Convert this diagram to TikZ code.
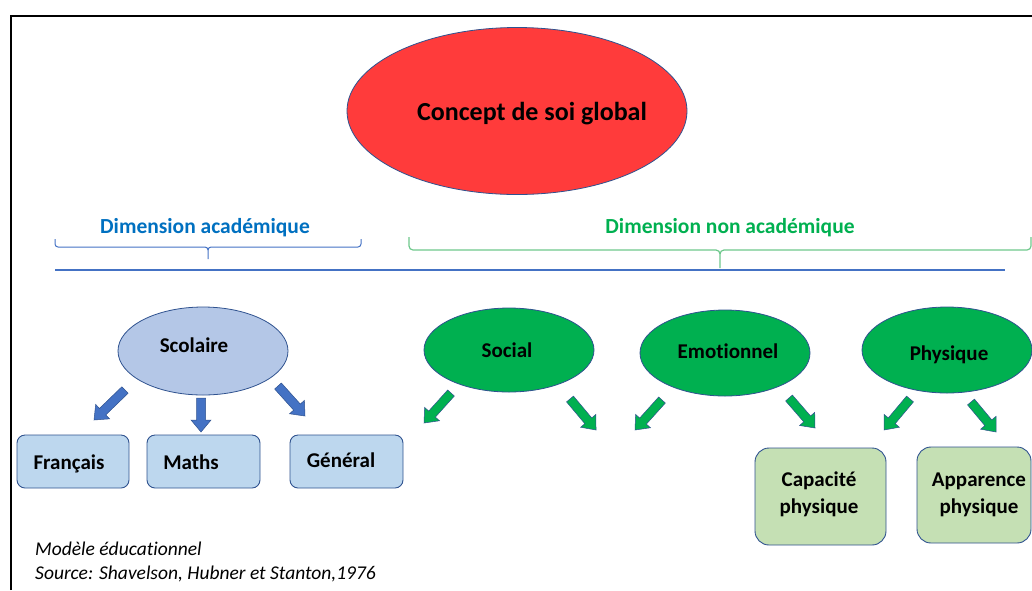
\documentclass[tikz,border=0pt]{standalone}
\usepackage{fontspec}
\setmainfont{Carlito}[Ligatures=NoCommon]
\usetikzlibrary{calc,shapes.geometric}
\definecolor{redF}{HTML}{FF3B3B}
\definecolor{edgeC}{HTML}{2F528F}
\definecolor{blueA}{HTML}{4472C4}
\definecolor{scolC}{HTML}{B4C7E7}
\definecolor{greenC}{HTML}{00B050}
\definecolor{boxB}{HTML}{BDD7EE}
\definecolor{boxG}{HTML}{C5E0B4}
\definecolor{dimB}{HTML}{0070C0}
\definecolor{braceG}{RGB}{110,200,140}
\newcommand\bkarrow[3]{%
  \coordinate (hh) at ($(#2)!12pt!(#1)$);
  \filldraw[#3] ($(#1)!4.5pt!90:(#2)$) -- ($(hh)!4.5pt!90:(#2)$) -- ($(hh)!10pt!90:(#2)$)
    -- (#2) -- ($(hh)!10pt!-90:(#2)$) -- ($(hh)!4.5pt!-90:(#2)$) -- ($(#1)!4.5pt!-90:(#2)$) -- cycle;
}
\tikzset{
  ell/.style={ellipse, draw=edgeC, line width=0.8pt, inner sep=0pt},
  lbl/.style={font=\bfseries\fontsize{21}{25}\selectfont, inner sep=0pt, text=black},
  dimlbl/.style={font=\bfseries\fontsize{21.5}{25}\selectfont, inner sep=0pt},
  boxstyle/.style={draw=edgeC, line width=0.9pt, rounded corners=8pt, inner sep=0pt},
  barrowB/.style={fill=blueA, draw=edgeC, line width=0.5pt},
  barrowG/.style={fill=greenC, draw=edgeC, line width=0.5pt},
  note/.style={font=\itshape\fontsize{19.5}{23}\selectfont, inner sep=0pt, anchor=west}
}
\begin{document}
\begin{tikzpicture}[x=1pt,y=-1pt]
\useasboundingbox (0,0) rectangle (1032,590);
% frame
\draw[line width=2.5pt, black] (11,590) -- (11,16) -- (1032,16);
% top ellipse
\node[ell, fill=redF, minimum width=340, minimum height=167] (global) at (517,111) {};
\node[lbl, font=\bfseries\fontsize{26}{30}\selectfont] (tglobal) at (532,114) {Concept de soi global};
% dimension labels
\node[dimlbl, text=dimB] (dacad) at (205,228) {Dimension académique};
\node[dimlbl, text=greenC] (dnon) at (730,228) {Dimension non académique};
% braces
\draw[blueA, line width=1pt] (55,239) -- (55,244) to[out=-90,in=180] (58,247) -- (205,247)
  to[out=0,in=90] (208,250) -- (208,259);
\draw[blueA, line width=1pt] (208,250) to[out=90,in=180] (211,247) -- (358,247)
  to[out=0,in=-90] (361,244) -- (361,239);
\draw[braceG, line width=1.2pt] (409,237) -- (409,246) to[out=-90,in=180] (413,250) -- (716,250)
  to[out=0,in=90] (720,254) -- (720,268);
\draw[braceG, line width=1.2pt] (720,254) to[out=90,in=180] (724,250) -- (1027,250)
  to[out=0,in=-90] (1031,246) -- (1031,237);
% separator line
\coordinate (lineL) at (55,270);
\coordinate (lineR) at (1005,270);
\draw[blueA, line width=1.5pt] (lineL) -- (lineR);
% second level ellipses
\node[ell, fill=scolC, minimum width=170, minimum height=88] (scol) at (203,351) {};
\node[lbl] (tscol) at (194,345) {Scolaire};
\node[ell, fill=greenC, minimum width=170, minimum height=84] (soc) at (509,350) {};
\node[lbl] (tsoc) at (507,350) {Social};
\node[ell, fill=greenC, minimum width=170, minimum height=86] (emo) at (725,353) {};
\node[lbl] (temo) at (728,351) {Emotionnel};
\node[ell, fill=greenC, minimum width=170, minimum height=86] (phy) at (947,350) {};
\node[lbl] (tphy) at (949,355) {Physique};
% boxes
\node[boxstyle, fill=boxB, minimum width=112, minimum height=53] (fr) at (73,461.5) {};
\node[lbl] (tfr) at (69,464) {Français};
\node[boxstyle, fill=boxB, minimum width=113, minimum height=53] (ma) at (203.5,461.5) {};
\node[lbl] (tma) at (191,462) {Maths};
\node[boxstyle, fill=boxB, minimum width=113, minimum height=53] (ge) at (346.5,461.5) {};
\node[lbl] (tge) at (341,460) {Général};
\node[boxstyle, rounded corners=14pt, fill=boxG, minimum width=131, minimum height=97] (cap) at (820.5,496.5) {};
\node[lbl, align=center, font=\bfseries\fontsize{21}{27}\selectfont] (tcap) at (819,494) {Capacité\\physique};
\node[boxstyle, rounded corners=14pt, fill=boxG, minimum width=114, minimum height=96] (app) at (974,495) {};
\node[lbl, align=center, font=\bfseries\fontsize{21}{27}\selectfont] (tapp) at (979,495) {Apparence\\physique};
% block arrows
\coordinate (a1s) at (125,390); \coordinate (a1e) at (94,420);
\coordinate (a2s) at (201,398); \coordinate (a2e) at (201,432);
\coordinate (a3s) at (278,386); \coordinate (a3e) at (305,416);
\bkarrow{a1s}{a1e}{barrowB}
\bkarrow{a2s}{a2e}{barrowB}
\bkarrow{a3s}{a3e}{barrowB}
\coordinate (g1s) at (451,393); \coordinate (g1e) at (424,423);
\coordinate (g2s) at (570,399); \coordinate (g2e) at (596,430);
\coordinate (g3s) at (662,400); \coordinate (g3e) at (635,430);
\coordinate (g4s) at (789,398); \coordinate (g4e) at (815,428);
\coordinate (g5s) at (910,399); \coordinate (g5e) at (884,430);
\coordinate (g6s) at (971,402); \coordinate (g6e) at (996,432);
\bkarrow{g1s}{g1e}{barrowG}
\bkarrow{g2s}{g2e}{barrowG}
\bkarrow{g3s}{g3e}{barrowG}
\bkarrow{g4s}{g4e}{barrowG}
\bkarrow{g5s}{g5e}{barrowG}
\bkarrow{g6s}{g6e}{barrowG}
% notes
\node[note] (n1) at (35,549) {Modèle éducationnel};
\node[note] (n2) at (35,574) {Source: Shavelson, Hubner et Stanton,1976};
\end{tikzpicture}
\end{document}
